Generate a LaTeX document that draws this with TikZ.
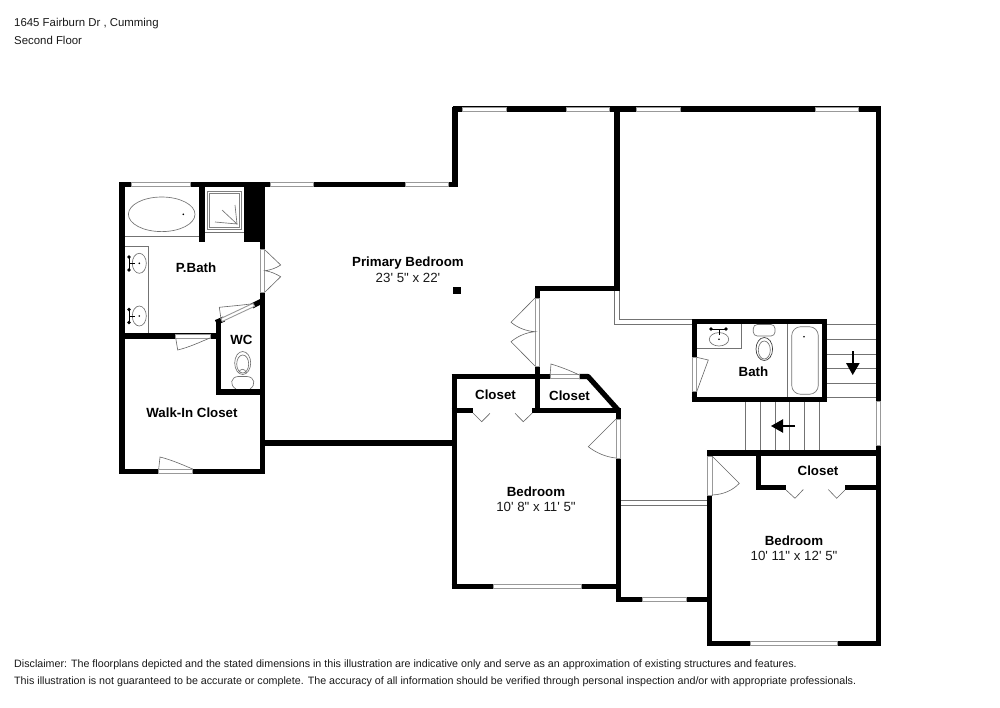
\documentclass[tikz,border=0pt]{standalone}
\usepackage{fontspec}
\setmainfont[Ligatures=TeXOff]{Liberation Sans}
\tikzset{
  wall/.style={line width=5.2pt,line cap=butt,line join=miter,draw=black},
  opening/.style={fill=white,draw=black!40,line width=0.9pt},
  fixture/.style={draw=black!55,line width=0.65pt},
  fixdark/.style={draw=black!75,line width=0.7pt},
  doorleaf/.style={draw=black!60,line width=0.6pt},
  tread/.style={draw=black!55,line width=0.6pt},
  room/.style={font=\fontsize{13.3}{15}\selectfont\bfseries,inner sep=0pt,text=black},
  dims/.style={font=\fontsize{13.3}{15}\selectfont,inner sep=0pt,text=black!90},
  note/.style={font=\fontsize{10.7}{13}\selectfont,inner sep=0pt,anchor=base west,text=black!90},
  head/.style={font=\fontsize{11.4}{13}\selectfont,inner sep=0pt,anchor=base west,text=black!90},
  stairarrow/.style={line width=2pt,draw=black}
}
\newcommand{\gapbox}[4]{\path[opening] (#1,#2) rectangle (#3,#4);}
\newcommand{\tapdot}[2]{\fill[black] (#1,#2) circle (1.8pt);}
\begin{document}
\begin{tikzpicture}[x=1pt,y=-1pt]
\useasboundingbox[fill=white] (0,0) rectangle (1000,707);
% fixtures first
\draw[fixture] (124,236) -- (200,236);
\draw[fixture] (204,232.3) -- (244,232.3);
\draw[fixture] (161.7,214.3) ellipse [x radius=33.3pt,y radius=17.3pt];
\fill[black] (183.3,214.3) circle (0.9pt);
\draw[draw=black!50,line width=0.9pt] (207.7,191) rectangle (241.3,229);
\draw[draw=black!50,line width=0.7pt] (209.7,193) rectangle (239.3,227);
\draw[fixture] (222,210) -- (237,224) -- (215,222);
\draw[fixture] (235,205) -- (237,224);
\draw[fixture] (124,246.7) -- (148.7,246.7) -- (148.7,334);
% sinks
\draw[fixture] (139.3,263.3) ellipse [x radius=7pt,y radius=10pt];
\draw[fixture] (139.3,316) ellipse [x radius=7pt,y radius=10pt];
\draw[black,line width=1pt] (129,257) -- (129,270) (129,263.3) -- (135,263.3);
\draw[black,line width=1pt] (129,309.5) -- (129,322.5) (129,316) -- (135,316);
\tapdot{129}{257}\tapdot{129}{270}\tapdot{129}{309.5}\tapdot{129}{322.5}
\fill[black] (139.3,263.3) circle (0.9pt) (139.3,316) circle (0.9pt);
% WC toilet
\draw[fixture] (242.7,363) ellipse [x radius=8pt,y radius=11.5pt];
\draw[fixture] (242.7,364) ellipse [x radius=6pt,y radius=9pt];
\draw[fixture] (236,389) .. controls (229,385) and (231,377) .. (238,376.5) -- (247,376.5) .. controls (255,377) and (256,385) .. (250,389);
\draw[fixture] (238.5,373) .. controls (240,368) and (245,368) .. (246.5,373);
% bath fixtures
\draw[fixture] (697,348.3) -- (741.7,348.3) -- (741.7,324);
\draw[fixture] (719,339.3) ellipse [x radius=9.7pt,y radius=6.7pt];
\draw[black,line width=1pt] (711,329) -- (726,329) (719,329) -- (719,335);
\tapdot{711}{329}\tapdot{726}{329}
\fill[black] (719,339.3) circle (0.9pt);
\draw[fixture,rounded corners=4pt] (753.3,324.5) rectangle (775,336);
\draw[fixdark] (764.3,349) ellipse [x radius=8.3pt,y radius=11.5pt];
\draw[fixture] (764.3,350) ellipse [x radius=6pt,y radius=9pt];
\draw[fixture] (787.7,324) -- (787.7,396.7);
\draw[fixture,rounded corners=9pt] (791.7,326.7) rectangle (818.3,394.3);
\fill[black] (804,336.7) circle (0.9pt);
% stairs
\foreach \yy in {324.3,339.3,354,368.7,383.3,397.7} \draw[tread] (827,\yy) -- (876,\yy);
\foreach \xx in {745.7,760.3,775.3,789.7,804.3,819.3} \draw[tread] (\xx,401.7) -- (\xx,451);
\draw[stairarrow] (852.7,351) -- (852.7,365);
\fill[black] (846,363) -- (859.7,363) -- (852.7,375) -- cycle;
\draw[stairarrow] (795,426) -- (781,426);
\fill[black] (783,419.2) -- (783,432.8) -- (771,426) -- cycle;
% thin partition double lines
\draw[draw=black!55,line width=0.7pt] (614.6,291) -- (614.6,324) -- (692,324);
\draw[draw=black!55,line width=0.7pt] (619,291) -- (619,319.6) -- (692,319.6);
\draw[draw=black!55,line width=0.7pt] (621,500.3) -- (707.5,500.3) (621,505) -- (707.5,505);
% walls
\draw[wall] (122,182) -- (122,474);
\draw[wall] (119.5,184.5) -- (457.5,184.5);
\draw[wall] (455,186) -- (455,106.5);
\draw[wall] (452.5,109) -- (881,109);
\draw[wall] (617,109) -- (617,291);
\draw[wall] (535,288.5) -- (617,288.5);
\draw[wall] (537.5,286) -- (537.5,412);
\draw[wall] (878.5,106.5) -- (878.5,646);
\fill[black] (244.3,182) rectangle (265,242.3);
\draw[wall] (262.5,182) -- (262.5,249);
\draw[wall] (202,184) -- (202,242);
\draw[wall] (262.3,292) -- (262.3,474);
\draw[wall] (119.5,471.5) -- (265,471.5);
\draw[wall] (119.5,336) -- (221,336);
\draw[wall] (218.5,320.5) -- (218.5,394.5);
\draw[wall] (216,392) -- (265,392);
\draw[line width=5.2pt] (216,322.5) -- (224,319);
\draw[line width=5.2pt] (252,306) -- (263,300.5);
\draw[wall] (265,443) -- (455,443);
\draw[wall] (454.2,374) -- (454.2,589);
\draw[wall] (451.7,376.5) -- (588,376.5);
\draw[wall,line join=bevel] (579,376.5) -- (588,376.5) -- (619,411);
\draw[wall] (451.7,410.7) -- (473,410.7);
\draw[wall] (532,410.7) -- (621,410.7);
\draw[wall] (618.5,408) -- (618.5,602.3);
\draw[wall] (451.7,586.5) -- (618,586.5);
\draw[wall] (616,599.8) -- (710,599.8);
\draw[wall] (709.8,451) -- (709.8,646);
\draw[wall] (707.3,643.5) -- (881,643.5);
\draw[wall] (707.3,453) -- (881,453);
\draw[wall] (758.5,453) -- (758.5,490);
\draw[wall] (756,487.5) -- (786,487.5);
\draw[wall] (845,487.5) -- (878,487.5);
\draw[wall] (691.7,321.8) -- (826.7,321.8);
\draw[wall] (691.7,399.2) -- (826.7,399.2);
\draw[wall] (694.2,319.3) -- (694.2,401.7);
\draw[wall] (824.2,319.3) -- (824.2,401.7);
\fill[black] (453.3,286.7) rectangle (460.7,294);
% windows and door openings
\gapbox{131.7}{182.5}{190}{186.7}
\gapbox{270}{182.5}{313}{186.7}
\gapbox{405}{182.5}{448}{186.7}
\gapbox{462.7}{107}{506}{111.3}
\gapbox{566}{107}{609}{111.3}
\gapbox{636.7}{107}{680}{111.3}
\gapbox{815}{107}{858}{111.3}
\gapbox{493}{584.5}{581}{588.7}
\gapbox{642.7}{597.7}{686}{601.9}
\gapbox{750}{641.3}{837.3}{645.7}
\gapbox{876.2}{401.7}{880.7}{445.7}
\gapbox{260.3}{249}{264.7}{292.3}
\gapbox{175.7}{334}{210}{338}
\gapbox{158.7}{469.5}{192.7}{473.7}
\gapbox{535.2}{298}{539.8}{366}
\gapbox{550}{374.5}{579.3}{378.7}
\gapbox{616.2}{419}{620.8}{458}
\gapbox{707.6}{456}{712}{495}
\gapbox{692}{357.3}{696.6}{391.7}
\draw[opening] (222.2,321.5) -- (254.6,306.3) -- (253,303.3) -- (220.8,318.5) -- cycle;
% door leaves
\draw[doorleaf] (221,319) -- (219.3,307.3) .. controls (232,306) and (244,305) .. (254,303.5);
\draw[doorleaf] (175.7,338) -- (177.7,350) .. controls (190,347) and (200,342) .. (210,338);
\draw[doorleaf] (158.7,469) -- (160,457) .. controls (172,460) and (183,465) .. (192.7,469);
\draw[doorleaf] (265,250) -- (280.7,265) .. controls (276,268) and (271,270) .. (265,270.7) .. controls (271,271.5) and (276,274) .. (280.7,276.7) -- (265,292);
\draw[doorleaf] (535,298) -- (511,322.3) .. controls (518,328) and (526,331) .. (535,331.7) .. controls (526,332.5) and (518,336) .. (511,341.7) -- (535,366);
\draw[doorleaf] (550,376) -- (551,364) .. controls (561,367) and (571,371) .. (579.3,375);
\draw[doorleaf] (616,419) -- (588.3,446.7) .. controls (595,452) and (605,457) .. (616,458);
\draw[doorleaf] (712,456) -- (739.3,483.3) .. controls (733,490) and (724,494.5) .. (712,495);
\draw[doorleaf] (696.7,391.7) -- (708.3,360) -- (696.7,357.3);
\draw[doorleaf] (473,413) -- (481.7,421.7) -- (490,413.3);
\draw[doorleaf] (532.3,413) -- (523.3,421.7) -- (515,413.3);
\draw[doorleaf] (786,490) -- (795,498.3) -- (803.3,489.5);
\draw[doorleaf] (845,490) -- (836.7,498.3) -- (828.3,489.5);
% labels
\node[room] (pbedroom) at (408,263) {Primary Bedroom};
\node[dims] (pdims) at (408,278) {23' 5" x 22'};
\node[room] (pbath) at (196,267.3) {P.Bath};
\node[room] (wc) at (241.5,340) {WC};
\node[room] (walkin) at (192,412.5) {Walk-In Closet};
\node[room] (closeta) at (495.5,394.5) {Closet};
\node[room] (closetb) at (569.5,395.5) {Closet};
\node[room] (beda) at (536,492) {Bedroom};
\node[dims] (bedadims) at (536,507) {10' 8" x 11' 5"};
\node[room] (bath) at (753.5,371.5) {Bath};
\node[room] (closetc) at (818,471) {Closet};
\node[room] (bedb) at (794,541) {Bedroom};
\node[dims] (bedbdims) at (794,556) {10' 11" x 12' 5"};
\node[head] (addr) at (14,26) {1645 Fairburn Dr , Cumming};
\node[head] (floor) at (14,44) {Second Floor};
\node[note] (disa) at (14,667) {Disclaimer: The floorplans depicted and the stated dimensions in this illustration are indicative only and serve as an approximation of existing structures and features.};
\node[note] (disb) at (14,684) {This illustration is not guaranteed to be accurate or complete. The accuracy of all information should be verified through personal inspection and/or with appropriate professionals.};
\end{tikzpicture}
\end{document}
